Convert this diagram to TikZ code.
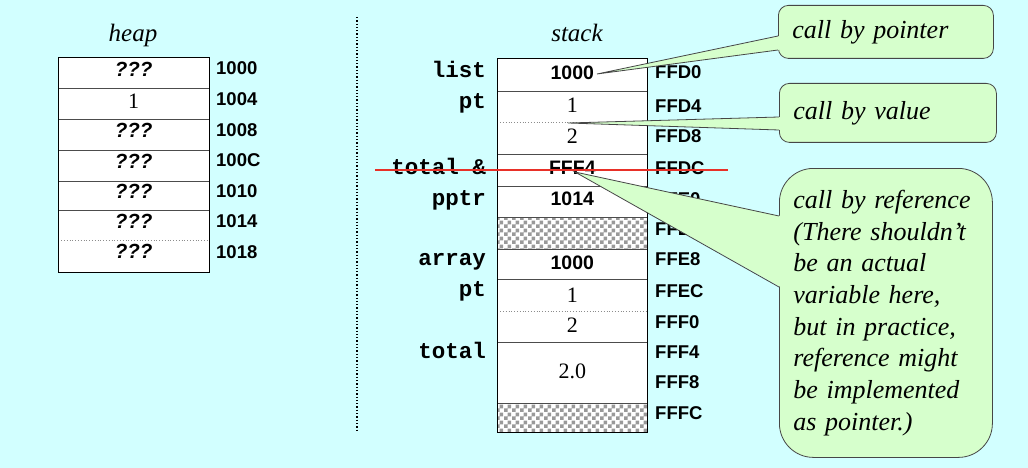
\documentclass[tikz,border=0pt]{standalone}
\usepackage{fontspec}
\setmainfont{Liberation Serif}
\setsansfont{Liberation Sans}
\setmonofont{Liberation Mono}
\usetikzlibrary{patterns,calc}
\pgfdeclarepatternformonly{mychecker}{\pgfpointorigin}{\pgfqpoint{8pt}{8pt}}{\pgfqpoint{8pt}{8pt}}{%
 \pgfpathrectangle{\pgfpointorigin}{\pgfqpoint{4pt}{4pt}}%
 \pgfpathrectangle{\pgfqpoint{4pt}{4pt}}{\pgfqpoint{4pt}{4pt}}%
 \pgfusepath{fill}}
\definecolor{bgcyan}{RGB}{210,255,255}
\definecolor{callfill}{RGB}{214,255,204}
\definecolor{calledge}{RGB}{70,70,70}
\definecolor{strike}{RGB}{232,48,40}
\begin{document}
\begin{tikzpicture}[x=1pt,y=-1pt,
  addr/.style={anchor=base west,font=\sffamily\bfseries\fontsize{18.5}{20}\selectfont,inner sep=0pt},
  valsans/.style={anchor=base,font=\sffamily\bfseries\fontsize{19.5}{20}\selectfont,inner sep=0pt},
  valq/.style={anchor=base,font=\sffamily\bfseries\itshape\fontsize{20.5}{20}\selectfont,inner sep=0pt},
  valser/.style={anchor=base,font=\fontsize{22}{22}\selectfont,inner sep=0pt},
  varname/.style={anchor=base east,font=\ttfamily\bfseries\fontsize{22.5}{24}\selectfont,inner sep=0pt},
  heading/.style={anchor=base,font=\itshape\fontsize{25}{26}\selectfont,inner sep=0pt},
  divider/.style={draw=black!70,line width=0.9pt},
  dotdiv/.style={draw=black!45,line width=0.8pt,dotted},
  frame/.style={draw=black,line width=1pt},
  hatch/.style={pattern=mychecker,pattern color=black!40},
  callbox/.style={draw=calledge,fill=callfill,line width=0.8pt,inner xsep=14pt,align=left,anchor=north west,font=\itshape\fontsize{26}{31.7}\selectfont},
  tailfill/.style={fill=callfill},
  tailedge/.style={draw=calledge,line width=0.8pt},
  strikeline/.style={draw=strike,line width=2.2pt},
]
\fill[bgcyan] (0,0) rectangle (1028,468);
\useasboundingbox (0,0) rectangle (1028,468);

% ---------- heap ----------
\node[heading] (heaphd) at (133,42) {heap};
\fill[white] (58.3,57.3) rectangle (209,272.7);
\foreach \yy in {88.3,119.3,150,181,210} \draw[divider] (58.3,\yy) -- (209,\yy);
\draw[dotdiv] (58.3,240.7) -- (209,240.7);
\draw[frame] (58.3,57.3) rectangle (209,272.7);

\node[valq] (hv1) at (133.6,77) {???};
\node[valser] (hv2) at (133.6,108.5) {1};
\node[valq] (hv3) at (133.6,138) {???};
\node[valq] (hv4) at (133.6,168) {???};
\node[valq] (hv5) at (133.6,198) {???};
\node[valq] (hv6) at (133.6,228) {???};
\node[valq] (hv7) at (133.6,258) {???};

\node[addr] (ha1) at (216,75) {1000};
\node[addr] (ha2) at (216,106) {1004};
\node[addr] (ha3) at (216,136) {1008};
\node[addr] (ha4) at (216,167) {100C};
\node[addr] (ha5) at (216,197) {1010};
\node[addr] (ha6) at (216,227) {1014};
\node[addr] (ha7) at (216,258) {1018};

% ---------- separator ----------
\coordinate (sepTop) at (357,17);
\coordinate (sepBot) at (357,432);
\draw[dotted,line width=1.3pt] (sepTop) -- (sepBot);

% ---------- stack ----------
\node[heading] (stackhd) at (577,42) {stack};
\fill[white] (497.3,58.3) rectangle (647.3,432.7);
\fill[hatch] (497.3,217.7) rectangle (647.3,249);
\fill[hatch] (497.3,403.3) rectangle (647.3,432.7);
\foreach \yy in {91,154,186,217.7,249,279.3,342.7,403.3} \draw[divider] (497.3,\yy) -- (647.3,\yy);
\draw[dotdiv] (497.3,122.3) -- (647.3,122.3);
\draw[dotdiv] (497.3,311.7) -- (647.3,311.7);
\draw[frame] (497.3,58.3) rectangle (647.3,432.7);

\node[valsans] (sv1) at (572.3,80) {1000};
\node[valser] (sv2) at (572.3,113) {1};
\node[valser] (sv3) at (572.3,144) {2};
\node[valsans] (sv4) at (572.3,175) {FFF4};
\node[valsans] (sv5) at (572.3,205.7) {1014};
\node[valsans] (sv6) at (572.3,269) {1000};
\node[valser] (sv7) at (572.3,302.7) {1};
\node[valser] (sv8) at (572.3,332.7) {2};
\node[valser] (sv9) at (572.3,378.3) {2.0};

\node[varname] (vn1) at (486,78) {list};
\node[varname] (vn2) at (486,109) {pt};
\node[varname] (vn3) at (486,175) {total \&};
\node[varname] (vn4) at (486,205) {pptr};
\node[varname] (vn5) at (486,265) {array};
\node[varname] (vn6) at (486,296) {pt};
\node[varname] (vn7) at (486,358) {total};

\node[addr] (sa1) at (655,78.3) {FFD0};
\node[addr] (sa2) at (655,113) {FFD4};
\node[addr] (sa3) at (655,142.7) {FFD8};
\node[addr] (sa4) at (655,175) {FFDC};
\node[addr] (sa5) at (655,205) {FFE0};
\node[addr] (sa6) at (655,235) {FFE4};
\node[addr] (sa7) at (655,265) {FFE8};
\node[addr] (sa8) at (655,297) {FFEC};
\node[addr] (sa9) at (655,328) {FFF0};
\node[addr] (sa10) at (655,358) {FFF4};
\node[addr] (sa11) at (655,388) {FFF8};
\node[addr] (sa12) at (655,419) {FFFC};

% ---------- callouts ----------
\node[callbox,rounded corners=10pt,text width=187pt,minimum height=53pt] (cbp) at (778,5) {call by pointer};
\node[callbox,rounded corners=10pt,text width=189pt,minimum height=59pt] (cbv) at (779,83) {call by value};
\node[callbox,rounded corners=34pt,text width=185pt,minimum height=289pt] (cbr) at (779,168)
 {\mbox{call by reference}\\\mbox{(There shouldn’t}\\\mbox{be an actual}\\\mbox{variable here,}\\\mbox{but in practice,}\\\mbox{reference might}\\\mbox{be implemented}\\\mbox{as pointer.)}};

\coordinate (tipP) at (597,74);
\coordinate (tipV) at (568,123);
\coordinate (tipR) at (575,172);

\fill[tailfill] (tipP) -- ($(cbp.north west)+(1.5,31)$) -- ($(cbp.north west)+(1.5,45)$) -- cycle;
\draw[tailedge] ($(cbp.north west)+(0,31)$) -- (tipP) -- ($(cbp.north west)+(0,45)$);

\fill[tailfill] (tipV) -- ($(cbv.north west)+(1.5,34)$) -- ($(cbv.north west)+(1.5,47)$) -- cycle;
\draw[tailedge] ($(cbv.north west)+(0,34)$) -- (tipV) -- ($(cbv.north west)+(0,47)$);

\fill[tailfill] (tipR) -- ($(cbr.north west)+(1.5,48)$) -- ($(cbr.north west)+(1.5,119)$) -- cycle;
\draw[tailedge] ($(cbr.north west)+(0,48)$) -- (tipR) -- ($(cbr.north west)+(0,119)$);

% ---------- strike-through ----------
\coordinate (strA) at (375,170);
\coordinate (strB) at (728,170);
\draw[strikeline] (strA) -- (strB);
\end{tikzpicture}
\end{document}
